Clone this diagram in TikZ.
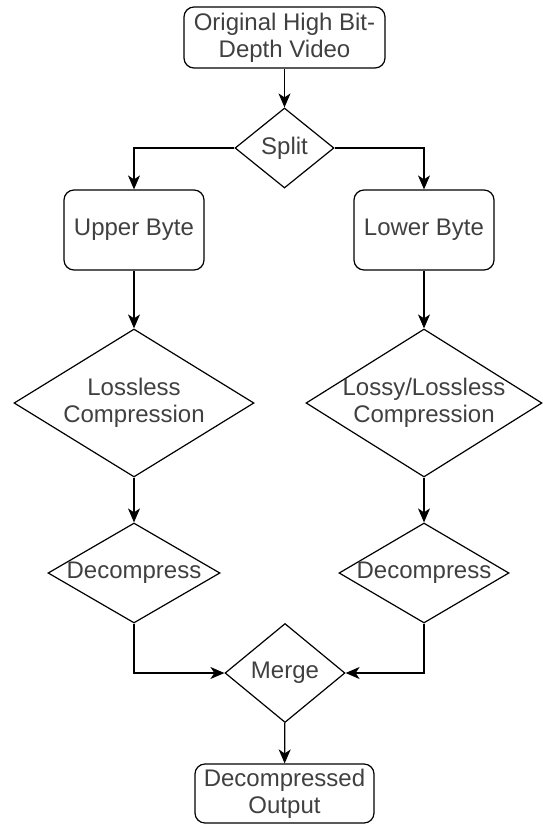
\documentclass[tikz,border=0pt]{standalone}
\usepackage{fontspec}
\setmainfont{Liberation Sans}
\usetikzlibrary{shapes.geometric,arrows.meta}

\tikzset{
  box/.style={draw, rounded corners=10pt, inner sep=0pt, align=center, text=black!75},
  dia/.style={draw, diamond, inner sep=0pt},
  lbl/.style={align=center, text=black!75, inner sep=0pt},
  arr/.style={-{Stealth[length=14pt,width=12pt,inset=4pt]}},
}

\begin{document}
\begin{tikzpicture}[x=1pt, y=-1pt, line width=1.2pt, font=\fontsize{24}{27}\selectfont]

        \useasboundingbox (0,0) rectangle (543,827);

        % boxes and decisions
        \node[box, minimum width=201pt, minimum height=61pt] (orig) at (284.5,37.5) {Original High Bit-\\Depth Video};
        \node[dia, minimum width=99pt, minimum height=80pt, label={[lbl]center:Split}] (split) at (284.5,148) {};

        \node[box, minimum width=140pt, minimum height=80pt] (upper) at (134,230) {Upper Byte};
        \node[box, minimum width=140pt, minimum height=80pt] (lower) at (424,230) {Lower Byte};

        \node[dia, minimum width=240pt, minimum height=148pt, label={[lbl]center:{Lossless\\Compression}}] (lossless) at (134,403) {};
        \node[dia, minimum width=236pt, minimum height=148pt, label={[lbl]center:{Lossy/Lossless\\Compression}}] (lossy) at (424,403) {};

        \node[dia, minimum width=172pt, minimum height=100pt, label={[lbl]center:Decompress}] (decL) at (134,573) {};
        \node[dia, minimum width=170pt, minimum height=100pt, label={[lbl]center:Decompress}] (decR) at (424,573) {};

        \node[dia, minimum width=120pt, minimum height=99pt, label={[lbl]center:Merge}] (merge) at (285,673) {};
        \node[box, minimum width=179pt, minimum height=59pt] (out) at (284.5,793.5) {Decompressed\\Output};

        % connectors
        \draw[arr] (orig) -- (split);
        \draw[arr] (split.west) -| (upper.north);
        \draw[arr] (split.east) -| (lower.north);
        \draw[arr] (upper) -- (lossless);
        \draw[arr] (lower) -- (lossy);
        \draw[arr] (lossless) -- (decL);
        \draw[arr] (lossy) -- (decR);
        \draw[arr] (decL.south) |- (merge.west);
        \draw[arr] (decR.south) |- (merge.east);
        \draw[arr] (merge) -- (out);

    \end{tikzpicture}
\end{document}
